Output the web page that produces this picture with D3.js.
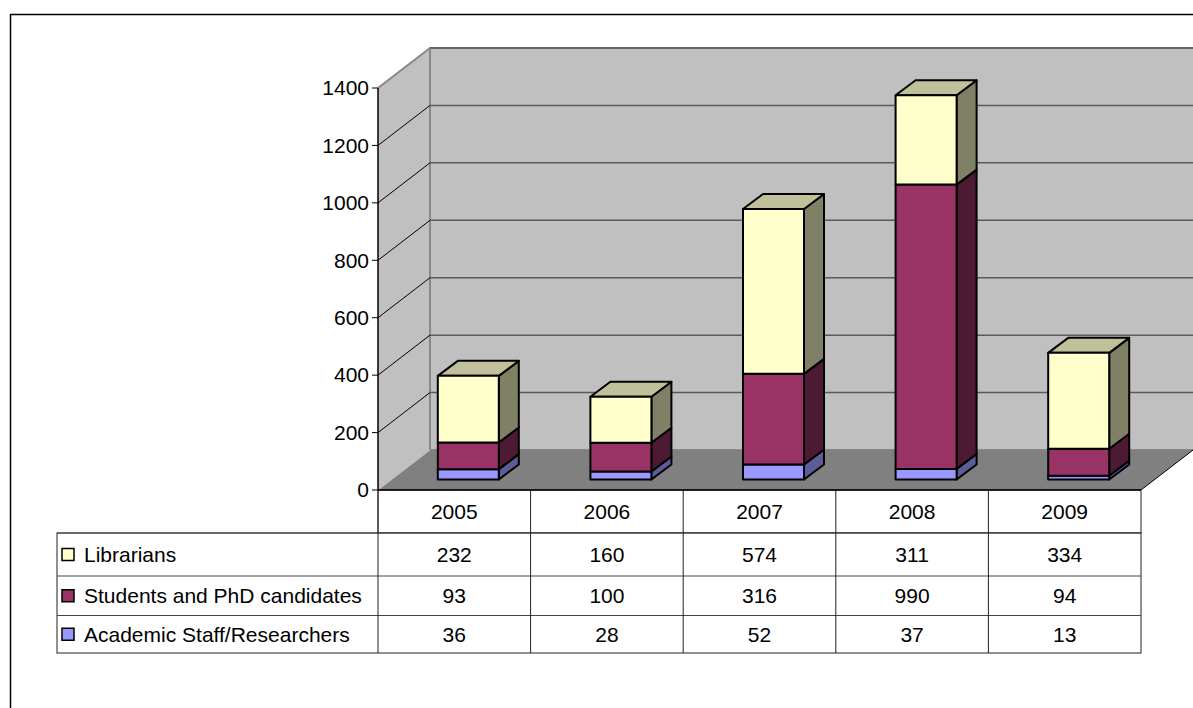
<!DOCTYPE html>
<html>
<head>
<meta charset="utf-8">
<script src="https://cdn.jsdelivr.net/npm/d3@7"></script>
<style>
  body { margin: 0; background: #fff; }
  svg text { font-family: "Liberation Sans", Arial, sans-serif; fill: #000; }
</style>
</head>
<body>
<svg id="chart" width="1193" height="708"></svg>
<script>
const years = ["2005", "2006", "2007", "2008", "2009"];
const academic = [36, 28, 52, 37, 13];
const students = [93, 100, 316, 990, 94];
const librarians = [232, 160, 574, 311, 334];
const seriesNames = ["Librarians", "Students and PhD candidates", "Academic Staff/Researchers"];
const yTicks = [0, 200, 400, 600, 800, 1000, 1200, 1400];

const svg = d3.select("#chart");
const fs = 21;

// outer frame (runs past the window on right and bottom)
svg.append("rect")
  .attr("x", 10.5).attr("y", 14.5)
  .attr("width", 1300).attr("height", 800)
  .attr("fill", "#fff").attr("stroke", "#000").attr("stroke-width", 1.5);

// plot geometry
const left = 378, right = 1141;
const depthX = 52, depthY = 40;   // 3d depth of the floor/walls

const x = d3.scaleBand().domain(years).range([left, right]);
const y = d3.scaleLinear().domain([0, 1400]).range([490, 88]);

// walls
const back = svg.append("g");
back.append("polygon")
  .attr("points", [[left, y(0)], [left, y(1400)], [left + depthX, y(1400) - depthY], [left + depthX, y(0) - depthY]].join(" "))
  .attr("fill", "#c0c0c0");
back.append("rect")
  .attr("x", left + depthX).attr("y", y(1400) - depthY)
  .attr("width", 1193 - left - depthX + 5).attr("height", y(0) - y(1400))
  .attr("fill", "#c0c0c0").attr("stroke", "#888").attr("stroke-width", 2);

// gridlines on back wall and side wall
yTicks.filter(d => d > 0).forEach(t => {
  back.append("line")
    .attr("x1", left + depthX).attr("x2", 1193)
    .attr("y1", y(t) - depthY).attr("y2", y(t) - depthY)
    .attr("stroke", "#5a5a5a").attr("stroke-width", 1.5);
  back.append("line")
    .attr("x1", left).attr("y1", y(t))
    .attr("x2", left + depthX).attr("y2", y(t) - depthY)
    .attr("stroke", t === 1400 ? "#888" : "#000").attr("stroke-width", t === 1400 ? 2 : 1);
});

// floor
back.append("polygon")
  .attr("points", [[left, y(0)], [right, y(0)], [right + depthX, y(0) - depthY], [left + depthX, y(0) - depthY]].join(" "))
  .attr("fill", "#808080");
back.append("line")
  .attr("x1", left).attr("y1", y(0)).attr("x2", left + depthX).attr("y2", y(0) - depthY)
  .attr("stroke", "#c0c0c0").attr("stroke-width", 1);
back.append("line")
  .attr("x1", right).attr("y1", y(0)).attr("x2", right + depthX).attr("y2", y(0) - depthY)
  .attr("stroke", "#000").attr("stroke-width", 1);

// y axis
svg.append("line")
  .attr("x1", left).attr("x2", left).attr("y1", y(1400)).attr("y2", y(0))
  .attr("stroke", "#000").attr("stroke-width", 1.5);
const ticks = svg.append("g");
ticks.selectAll("line").data(yTicks).join("line")
  .attr("x1", left - 6).attr("x2", left)
  .attr("y1", d => y(d)).attr("y2", d => y(d))
  .attr("stroke", "#000");
ticks.selectAll("text").data(yTicks).join("text")
  .attr("x", left - 9).attr("y", d => y(d))
  .attr("dy", "0.35em").attr("text-anchor", "end")
  .attr("font-size", fs)
  .text(d => d);

// stacked 3d bars
const rows = years.map((yr, i) => ({ year: yr, academic: academic[i], students: students[i], librarians: librarians[i] }));
const stack = d3.stack().keys(["academic", "students", "librarians"])(rows);
const faces = {
  academic:   { front: "#9999ff", side: "#5c5c99", top: "#7a7acc" },
  students:   { front: "#993366", side: "#4d1a33", top: "#733050" },
  librarians: { front: "#ffffcc", side: "#808066", top: "#c0c09a" }
};
const barW = 61, frontDx = 14, frontDy = 10.5, bdx = 20, bdy = 15;

const bars = svg.append("g").attr("stroke", "#000").attr("stroke-width", 2).attr("stroke-linejoin", "round");
stack.forEach((layer, li) => {
  const c = faces[layer.key];
  layer.forEach(seg => {
    const x0 = x(seg.data.year) + (x.bandwidth() - barW) / 2 + frontDx;
    const yTop = y(seg[1]) - frontDy, yBot = y(seg[0]) - frontDy;
    bars.append("polygon")
      .attr("points", [[x0 + barW, yTop], [x0 + barW + bdx, yTop - bdy], [x0 + barW + bdx, yBot - bdy], [x0 + barW, yBot]].join(" "))
      .attr("fill", c.side);
    if (li === stack.length - 1) {
      bars.append("polygon")
        .attr("points", [[x0, yTop], [x0 + bdx, yTop - bdy], [x0 + barW + bdx, yTop - bdy], [x0 + barW, yTop]].join(" "))
        .attr("fill", c.top);
    }
    bars.append("rect")
      .attr("x", x0).attr("y", yTop).attr("width", barW).attr("height", yBot - yTop)
      .attr("fill", c.front);
  });
});

// data table
const tbl = svg.append("g");
const legLeft = 57;
const rowEdges = [490, 533, 576, 615.5, 653];
const tableVals = [librarians, students, academic];
const legColors = ["#ffffcc", "#993366", "#9999ff"];

// header row
tbl.append("rect").attr("x", left).attr("y", rowEdges[0]).attr("width", right - left).attr("height", rowEdges[1] - rowEdges[0])
  .attr("fill", "#fff").attr("stroke", "#222");
tbl.append("rect").attr("x", legLeft).attr("y", rowEdges[1]).attr("width", right - legLeft).attr("height", rowEdges[4] - rowEdges[1])
  .attr("fill", "#fff").attr("stroke", "#222");
[1, 2, 3].forEach(r => tbl.append("line")
  .attr("x1", legLeft).attr("x2", right).attr("y1", rowEdges[r]).attr("y2", rowEdges[r])
  .attr("stroke", "#444"));
years.forEach((yr, i) => {
  if (i > 0) tbl.append("line").attr("x1", x(yr)).attr("x2", x(yr)).attr("y1", rowEdges[0]).attr("y2", rowEdges[4]).attr("stroke", "#222");
});
tbl.append("line").attr("x1", left).attr("x2", left).attr("y1", rowEdges[0]).attr("y2", rowEdges[4]).attr("stroke", "#222");
tbl.append("line").attr("x1", left).attr("x2", right).attr("y1", rowEdges[0]).attr("y2", rowEdges[0]).attr("stroke", "#000").attr("stroke-width", 1.5);

tbl.selectAll("text.year").data(years).join("text")
  .attr("class", "year")
  .attr("x", d => x(d) + x.bandwidth() / 2).attr("y", (rowEdges[0] + rowEdges[1]) / 2)
  .attr("dy", "0.35em").attr("text-anchor", "middle").attr("font-size", fs)
  .text(d => d);

seriesNames.forEach((name, r) => {
  const cy = (rowEdges[r + 1] + rowEdges[r + 2]) / 2;
  tbl.append("rect").attr("x", 62).attr("y", cy - 6).attr("width", 12).attr("height", 12)
    .attr("fill", legColors[r]).attr("stroke", "#000").attr("stroke-width", 1.5);
  tbl.append("text").attr("x", 84).attr("y", cy).attr("dy", "0.35em").attr("font-size", fs).text(name);
  tableVals[r].forEach((v, i) => {
    tbl.append("text")
      .attr("x", x(years[i]) + x.bandwidth() / 2).attr("y", cy)
      .attr("dy", "0.35em").attr("text-anchor", "middle").attr("font-size", fs)
      .text(v);
  });
});
</script>
</body>
</html>
